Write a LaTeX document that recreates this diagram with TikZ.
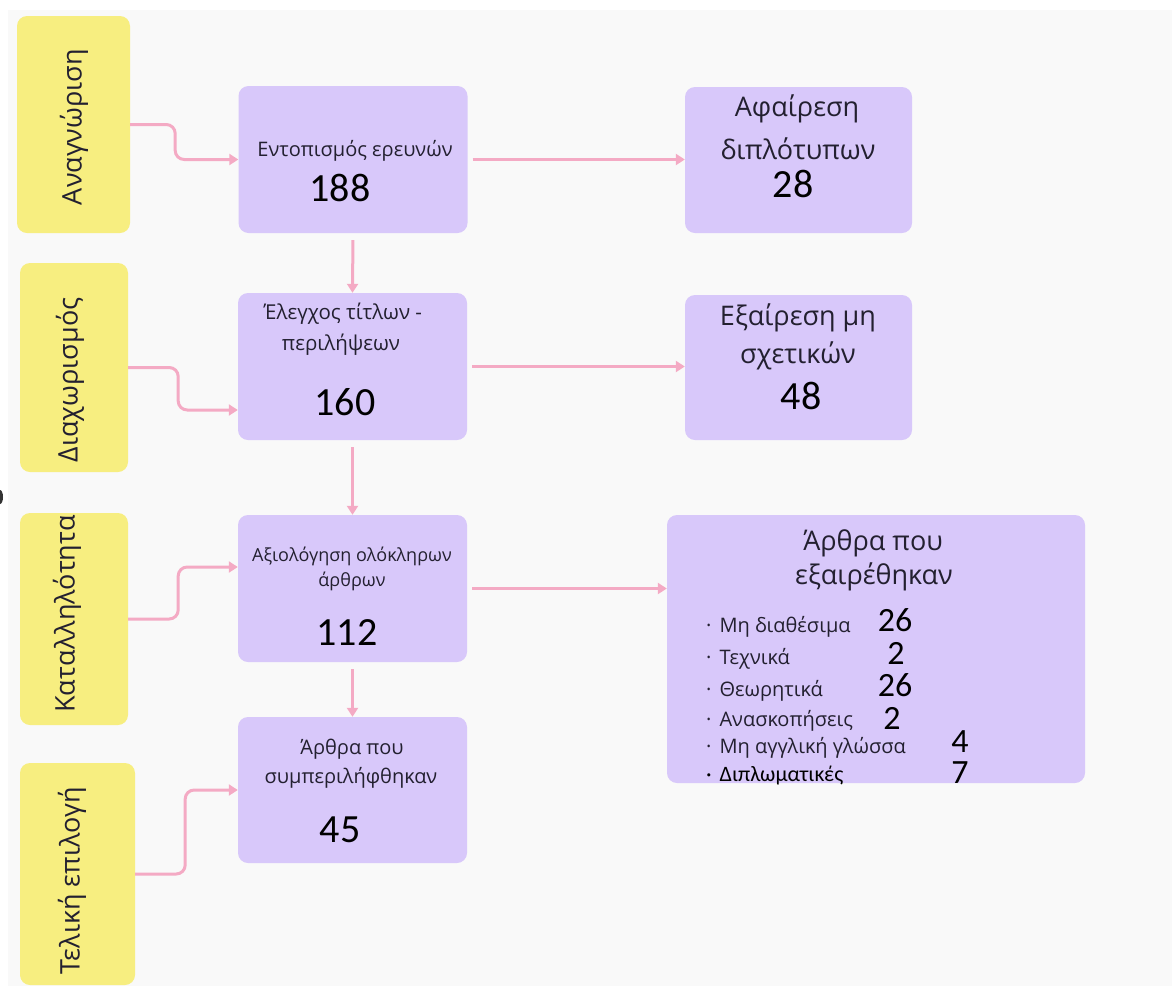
\documentclass[tikz,border=0pt]{standalone}
\usepackage{fontspec}
\setmainfont{Open Sans}
\newfontfamily\numfont{Carlito}
\usetikzlibrary{arrows.meta,calc}
\definecolor{bgc}{RGB}{249,249,249}
\definecolor{yel}{RGB}{247,238,128}
\definecolor{pur}{RGB}{216,200,250}
\definecolor{pnk}{RGB}{244,170,196}
\definecolor{txt}{RGB}{35,32,48}
\tikzset{
  ybox/.style={fill=yel, rounded corners=10pt, inner sep=0pt, draw=none},
  pbox/.style={fill=pur, rounded corners=10pt, inner sep=0pt, draw=none},
  ylab/.style={rotate=90, text=txt, font=\fontsize{27}{30}\selectfont, inner sep=0pt},
  lab/.style={text=txt, align=center, inner sep=0pt},
  num/.style={text=black, font=\numfont\fontsize{40}{42}\selectfont, inner sep=0pt},
  lnum/.style={text=black, font=\numfont\fontsize{34}{35}\selectfont, inner sep=0pt},
  item/.style={text=txt, anchor=west, font=\fontsize{20}{22}\selectfont, inner sep=0pt},
  conn/.style={draw=pnk, line width=3pt, -{Triangle[length=9pt,width=11pt]}, rounded corners=9pt},
}
\begin{document}
\begin{tikzpicture}[x=1pt,y=-1pt]
\useasboundingbox (0,0) rectangle (1172,986);
\fill[white] (0,0) rectangle (1172,986);
\fill[bgc] (8,10) rectangle (1172,986);
\fill[black!80] (0,497) ellipse (3 and 7);

% yellow stage boxes
\node[ybox, minimum width=113pt, minimum height=217pt] (y1) at (73.5,124.5) {};
\node[ybox, minimum width=108pt, minimum height=209pt] (y2) at (74,367.5) {};
\node[ybox, minimum width=108pt, minimum height=212pt] (y3) at (74,619) {};
\node[ybox, minimum width=115pt, minimum height=222pt] (y4) at (77.5,874) {};
\node[ylab] (t1) at (74,127) {Αναγνώριση};
\node[ylab] (t2) at (70,380) {Διαχωρισμός};
\node[ylab] (t3) at (67,614) {Καταλληλότητα};
\node[ylab] (t4) at (72,881) {Τελική επιλογή};

% purple main boxes
\node[pbox, minimum width=229pt, minimum height=147pt] (p1) at (353,159.5) {};
\node[pbox, minimum width=229pt, minimum height=147pt] (p2) at (352.5,366.5) {};
\node[pbox, minimum width=229pt, minimum height=147pt] (p3) at (352.5,588.5) {};
\node[pbox, minimum width=229pt, minimum height=146pt] (p4) at (352.5,790) {};

% right boxes
\node[pbox, minimum width=227pt, minimum height=146pt] (r1) at (798.5,160) {};
\node[pbox, minimum width=227pt, minimum height=145pt] (r2) at (798.5,367.5) {};
\node[pbox, minimum width=418pt, minimum height=268pt] (r3) at (876,649) {};

% texts in main boxes
\node[lab, font=\fontsize{20}{22}\selectfont] (a1) at (355,151) {Εντοπισμός ερευνών};
\node[num] (n1) at (340,188) {188};
\node[lab, font=\fontsize{20.5}{22}\selectfont] (a2a) at (343,314) {Έλεγχος τίτλων -};
\node[lab, font=\fontsize{20.5}{22}\selectfont] (a2b) at (341,345) {περιλήψεων};
\node[num] (n2) at (345,402) {160};
\node[lab, font=\fontsize{18}{20}\selectfont] (a3a) at (352,556) {Αξιολόγηση ολόκληρων};
\node[lab, font=\fontsize{18}{20}\selectfont] (a3b) at (352,581) {άρθρων};
\node[num] (n3) at (347,633) {112};
\node[lab, font=\fontsize{20}{22}\selectfont] (a4a) at (352,749) {Άρθρα που};
\node[lab, font=\fontsize{20}{22}\selectfont] (a4b) at (351,778) {συμπεριλήφθηκαν};
\node[num] (n4) at (340,830) {45};

% texts in right boxes
\node[lab, font=\fontsize{27}{30}\selectfont] (b1a) at (797,109) {Αφαίρεση};
\node[lab, font=\fontsize{27}{30}\selectfont] (b1b) at (798,149) {διπλότυπων};
\node[num] (m1) at (793,184) {28};
\node[lab, font=\fontsize{27}{30}\selectfont] (b2a) at (798,318) {Εξαίρεση μη};
\node[lab, font=\fontsize{27}{30}\selectfont] (b2b) at (798,356) {σχετικών};
\node[num] (m2) at (801,396) {48};
\node[lab, font=\fontsize{27}{30}\selectfont] (b3a) at (873,543) {Άρθρα που};
\node[lab, font=\fontsize{27}{30}\selectfont] (b3b) at (874,577) {εξαιρέθηκαν};

% list
\node[item] (i1) at (706,627) {·\hspace{8pt}Μη διαθέσιμα};
\node[item] (i2) at (706,659) {·\hspace{8pt}Τεχνικά};
\node[item] (i3) at (706,691) {·\hspace{8pt}Θεωρητικά};
\node[item] (i4) at (706,721) {·\hspace{8pt}Ανασκοπήσεις};
\node[item] (i5) at (706,748) {·\hspace{8pt}Μη αγγλική γλώσσα};
\node[item, font=\numfont\fontsize{22}{24}\selectfont, text=black] (i6) at (706,776) {·\hspace{8pt}Διπλωματικές};
\node[lnum] (c1) at (895,620) {26};
\node[lnum] (c2) at (896,653) {2};
\node[lnum] (c3) at (895,685) {26};
\node[lnum] (c4) at (892,718) {2};
\node[lnum] (c5) at (960,742) {4};
\node[lnum] (c6) at (960,773) {7};

% connectors: stages to boxes
\coordinate (k2) at ($(p2.west)+(0,43.5)$);
\coordinate (k3) at ($(p3.west)+(0,-21.5)$);
\draw[conn] (y1.east) -- ++(45,0) |- (p1.west);
\draw[conn] (y2.east) -- ++(50,0) |- (k2);
\draw[conn] (y3.east) -- ++(50,0) |- (k3);
\draw[conn] (y4.east) -- ++(50,0) |- (p4.west);

% vertical flow
\draw[conn, shorten <=7pt] (p1.south) -- (p2.north);
\draw[conn, shorten <=7pt] (p2.south) -- (p3.north);
\draw[conn, shorten <=7pt] (p3.south) -- (p4.north);

% horizontal exclusions
\draw[conn, shorten <=5pt] (p1.east) -- (p1.east -| r1.west);
\draw[conn, shorten <=5pt] (p2.east) -- (p2.east -| r2.west);
\draw[conn, shorten <=5pt] (p3.east) -- (p3.east -| r3.west);
\end{tikzpicture}
\end{document}
